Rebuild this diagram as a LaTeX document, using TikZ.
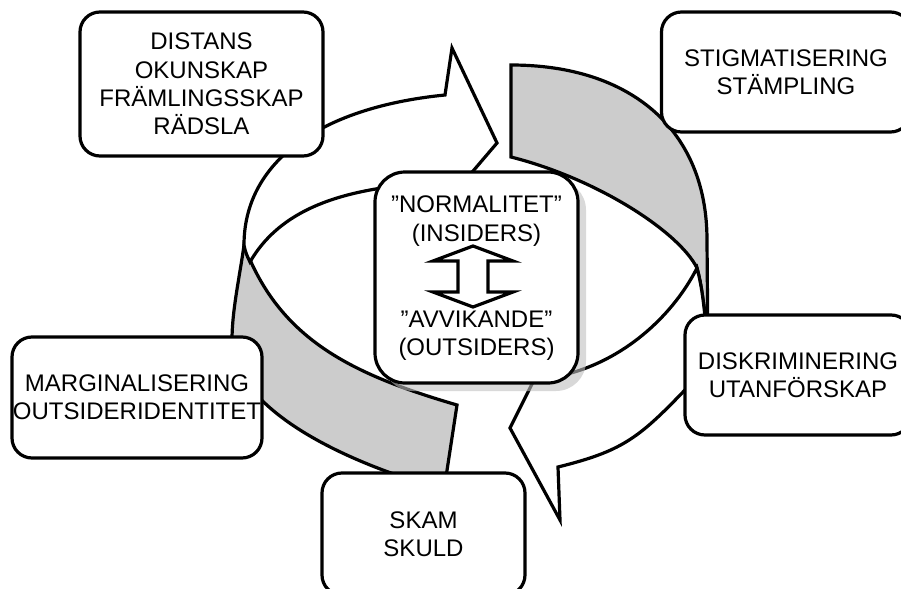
\documentclass[tikz,border=0pt]{standalone}
\usepackage{fontspec}
\setmainfont{Liberation Sans}
\usetikzlibrary{shadows}

\begin{document}
\begin{tikzpicture}[x=0.5pt, y=-0.5pt]
		\tikzstyle{band} = [draw=black, line width=1.6pt, fill=white]
		\tikzstyle{back} = [band, fill=gray!40]
		\tikzstyle{box} = [draw=black, line width=1.6pt, fill=white, rounded corners=10pt, align=center, inner sep=0pt, font=\fontsize{12}{14.2}\selectfont]
		\tikzstyle{txt} = [draw=none, align=center, inner sep=0pt, font=\fontsize{12}{14.2}\selectfont]

		\useasboundingbox (0,0) rectangle (901,589);

		\draw[back] (244,245) .. controls (240,275) and (232,310) .. (232,340)
			.. controls (232,400) and (320,455) .. (444,490) -- (457,405)
			.. controls (351,374) and (279,339) .. (244,245) -- cycle;
		\draw[band] (244,245) .. controls (244,165) and (315,108) .. (445,95)
			-- (452,48) -- (497,143) -- (462,184) -- (451,180)
			.. controls (392,187) and (292.5,188) .. (250,262)
			.. controls (247,256) and (245,251) .. (244,245) -- cycle;

		\draw[back] (511,65) -- (511,157) .. controls (598,179) and (679,232) .. (697,268)
			.. controls (703,290) and (706,320) .. (708,362) -- (707,240)
			.. controls (707,130) and (631,65) .. (511,65) -- cycle;
		\draw[band] (697,268) .. controls (672,317.5) and (618,367.5) .. (548,378)
			-- (538,372) -- (510,428) -- (560,520) -- (558,467)
			.. controls (621,451.4) and (638,438.8) .. (683,392)
			.. controls (692,383) and (701,373) .. (708,362)
			.. controls (706,320) and (703,290) .. (697,268) -- cycle;

		\node[box, minimum width=121.5pt, minimum height=72pt] at (201.5,84) (distans) {DISTANS\\OKUNSKAP\\FRÄMLINGSSKAP\\RÄDSLA};
		\node[box, minimum width=124.5pt, minimum height=60pt] at (786,72) (stigma) {STIGMATISERING\\STÄMPLING};
		\node[box, minimum width=113pt, minimum height=60pt] at (798,375) (diskr) {DISKRIMINERING\\UTANFÖRSKAP};
		\node[box, minimum width=101.5pt, minimum height=61pt] at (423.5,534) (skam) {SKAM\\SKULD};
		\node[box, minimum width=125pt, minimum height=60.5pt] at (137,397.5) (marg) {MARGINALISERING\\OUTSIDERIDENTITET};

		\node[box, rounded corners=15pt, minimum width=101.5pt, minimum height=105.5pt,
			drop shadow={shadow xshift=4pt, shadow yshift=-4pt, fill=gray!50, opacity=.6}] at (476.5,277.5) (mid) {};
		\node[txt] at (476.5,221) (insiders) {”NORMALITET”\\(INSIDERS)};
		\node[txt] at (476.5,336) (outsiders) {”AVVIKANDE”\\(OUTSIDERS)};
		\draw[band] (473,246) -- (513,261) -- (488,261) -- (488,292) -- (513,292) -- (473,307)
			-- (433,292) -- (458,292) -- (458,261) -- (433,261) -- cycle;
\end{tikzpicture}
\end{document}
